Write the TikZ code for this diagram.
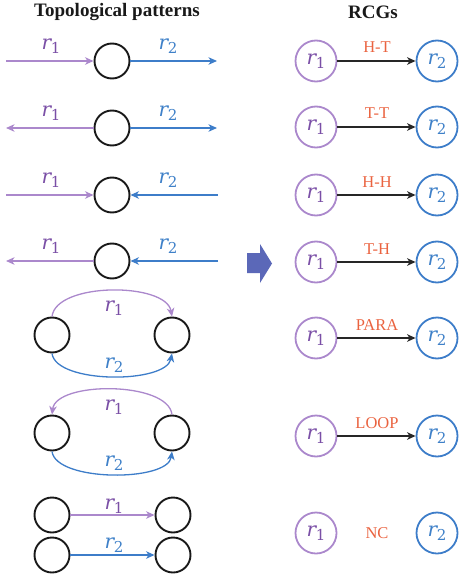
\documentclass[tikz,border=0pt]{standalone}
\usepackage{fontspec}
\setmainfont{Liberation Serif}
\newfontfamily\rfont{DejaVu Serif}
\usetikzlibrary{arrows.meta}
\definecolor{purl}{HTML}{AB88CC}
\definecolor{purt}{HTML}{7A4FA6}
\definecolor{blul}{HTML}{3D7DC9}
\definecolor{blut}{HTML}{3E80C8}
\definecolor{orng}{HTML}{EA6340}
\definecolor{barrow}{HTML}{5B68B8}
\newcommand\rsub[1]{{\itshape r}\kern-0.5pt\raisebox{-4.5pt}{\fontsize{15}{15}\selectfont #1}}
\tikzset{
  bc/.style={circle,draw=black!90,line width=1.9pt,minimum size=35pt,inner sep=0pt},
  pc/.style={circle,draw=purl,line width=1.8pt,minimum size=41pt,inner sep=0pt,text=purt,font=\rfont\fontsize{20}{20}\selectfont},
  bcc/.style={circle,draw=blul,line width=1.8pt,minimum size=41pt,inner sep=0pt,text=blut,font=\rfont\fontsize{20}{20}\selectfont},
  tip/.style={-{Stealth[length=8.5pt,width=7.5pt,inset=2.5pt]}},
  pline/.style={draw=purl,line width=1.3pt},
  bline/.style={draw=blul,line width=1.3pt},
  kline/.style={draw=black!85,line width=1.4pt,tip},
  plab/.style={text=purt,font=\rfont\fontsize{20}{20}\selectfont,inner sep=0pt},
  blab/.style={text=blut,font=\rfont\fontsize{20}{20}\selectfont,inner sep=0pt},
  rlab/.style={text=orng,font=\fontsize{16.5}{16.5}\selectfont,inner sep=0pt},
  title/.style={font=\fontsize{19}{19}\selectfont\bfseries,text=black!90,inner sep=0pt},
}
\begin{document}
\begin{tikzpicture}[x=1pt,y=-1pt]
\useasboundingbox (0,0) rectangle (458,580);
% titles
\node[title] (t1) at (117,12) {Topological patterns};
\node[title] (t2) at (373,12) {RCGs};
% row 1
\node[bc] (a1) at (112,61) {};
\coordinate (s1) at (6,61); \coordinate (e1) at (217,61);
\draw[pline,tip] (s1) -- (a1);
\draw[bline,tip] (a1) -- (e1);
\node[plab] (la1) at (51,46) {\rsub{1}};
\node[blab] (lb1) at (168,46) {\rsub{2}};
% row 2
\node[bc] (a2) at (112,128) {};
\coordinate (s2) at (6,128); \coordinate (e2) at (217,128);
\draw[pline,tip] (a2) -- (s2);
\draw[bline,tip] (a2) -- (e2);
\node[plab] (la2) at (51,113) {\rsub{1}};
\node[blab] (lb2) at (168,113) {\rsub{2}};
% row 3
\node[bc] (a3) at (112,195) {};
\coordinate (s3) at (6,195); \coordinate (e3) at (218,195);
\draw[pline,tip] (s3) -- (a3);
\draw[bline,tip] (e3) -- (a3);
\node[plab] (la3) at (51,180) {\rsub{1}};
\node[blab] (lb3) at (168,180) {\rsub{2}};
% row 4
\node[bc] (a4) at (112,261) {};
\coordinate (s4) at (6,261); \coordinate (e4) at (218,261);
\draw[pline,tip] (a4) -- (s4);
\draw[bline,tip] (e4) -- (a4);
\node[plab] (la4) at (51,246) {\rsub{1}};
\node[blab] (lb4) at (168,246) {\rsub{2}};
% row 5 (PARA)
\node[bc] (a5) at (52,335) {};
\node[bc] (b5) at (172,335) {};
\draw[pline,tip] (a5.north) .. controls (56,282) and (166,282) .. (b5.north);
\draw[bline,tip] (a5.south) .. controls (56,384) and (166,384) .. (b5.south);
\node[plab] (la5) at (114,308) {\rsub{1}};
\node[blab] (lb5) at (114,365) {\rsub{2}};
% row 6 (LOOP)
\node[bc] (a6) at (52,433) {};
\node[bc] (b6) at (172,433) {};
\draw[pline,tip] (b6.north) .. controls (168,381) and (56,381) .. (a6.north);
\draw[bline,tip] (a6.south) .. controls (56,482) and (168,482) .. (b6.south);
\node[plab] (la6) at (114,407) {\rsub{1}};
\node[blab] (lb6) at (114,463) {\rsub{2}};
% row 7 (NC)
\node[bc] (a7) at (52,515) {};
\node[bc] (b7) at (173,515) {};
\node[bc] (c7) at (52,555) {};
\node[bc] (d7) at (173,555) {};
\draw[pline,tip] (a7) -- (b7);
\draw[bline,tip] (c7) -- (d7);
\node[plab] (la7) at (114,506) {\rsub{1}};
\node[blab] (lb7) at (114,545) {\rsub{2}};
% block arrow
\fill[barrow] (247,253) -- (260,253) -- (260,244) -- (272,263.5) -- (260,283) -- (260,273) -- (247,273) -- cycle;
% right column
\foreach \y/\lab/\n in {61/H-T/1,127/T-T/2,195/H-H/3,262/T-H/4,338/PARA/5,436/LOOP/6}{
  \node[pc] (p\n) at (316,\y) {\rsub{1}};
  \node[bcc] (q\n) at (437,\y) {\rsub{2}};
  \draw[kline] (p\n) -- (q\n);
  \node[rlab,anchor=base] (h\n) at (377,\y-8) {\lab};
}
\node[pc] (p7) at (316,533) {\rsub{1}};
\node[bcc] (q7) at (437,533) {\rsub{2}};
\node[rlab] (h7) at (377,533) {NC};
\end{tikzpicture}
\end{document}
